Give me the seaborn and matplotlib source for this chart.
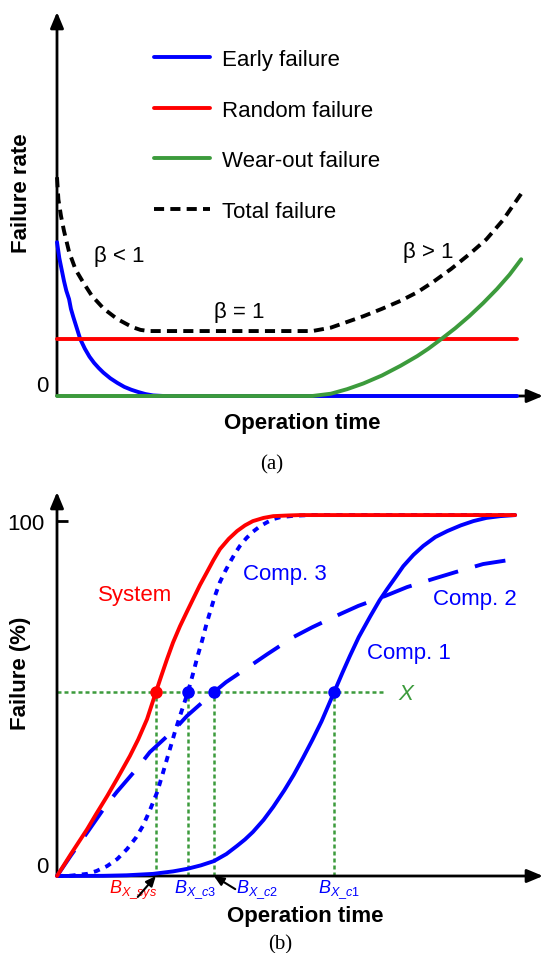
import matplotlib
matplotlib.use("Agg")
import matplotlib.pyplot as plt
import seaborn as sns

# ---- panel (a): bathtub curve (time units, rate units with random failure = 1)
early_t = [0, 0.05, 0.10, 0.15, 0.20, 0.26, 0.30, 0.35, 0.40, 0.45, 0.50, 0.60, 0.70, 0.80, 0.90,
           1.00, 1.15, 1.30, 1.45, 1.60, 1.75, 1.90, 2.07, 2.30, 9.91]
early_rate = [2.70, 2.42, 2.22, 2.02, 1.85, 1.70, 1.53, 1.39, 1.26, 1.13, 1.00, 0.83, 0.69, 0.58, 0.49,
              0.41, 0.31, 0.23, 0.16, 0.11, 0.07, 0.035, 0.01, 0.0, 0.0]

random_t = [0, 9.91]
random_rate = [1.0, 1.0]

wear_t = [0, 5.50, 5.90, 6.25, 6.60, 7.00, 7.40, 7.76, 8.00, 8.28, 8.58, 8.88, 9.18, 9.48, 9.75, 10.0]
wear_rate = [0.0, 0.0, 0.04, 0.12, 0.22, 0.36, 0.53, 0.70, 0.83, 1.00, 1.19, 1.40, 1.63, 1.88, 2.13, 2.40]

total_t = [0, 0.03, 0.086, 0.15, 0.26, 0.40, 0.56, 0.75, 1.01, 1.30, 1.62, 1.80, 1.98, 5.50, 5.90, 6.25,
           6.60, 7.00, 7.40, 7.76, 8.10, 8.49, 8.90, 9.25, 9.60, 10.0]
total_rate = [3.84, 3.45, 3.16, 2.90, 2.53, 2.22, 2.00, 1.76, 1.53, 1.35, 1.21, 1.16, 1.14, 1.14, 1.20, 1.30,
              1.40, 1.53, 1.67, 1.82, 2.00, 2.23, 2.50, 2.75, 3.08, 3.55]

# ---- panel (b): cumulative failure (%)
sys_t = [0, 0.30, 0.65, 0.85, 1.08, 1.30, 1.57, 1.75, 1.94, 2.13, 2.25, 2.37, 2.50, 2.65, 2.80,
         2.93, 3.08, 3.23, 3.37, 3.51, 3.70, 3.88, 4.05, 4.22, 4.45, 4.66, 5.00, 5.24, 9.87]
sys_pct = [0, 6.2, 13.2, 17.6, 22.5, 27.5, 33.8, 38.5, 44.2, 51.8, 56.5, 61.1, 65.8, 70.4, 74.5,
           78.0, 82.0, 85.6, 89.0, 92.1, 95.0, 97.2, 98.8, 100.0, 100.9, 101.4, 101.6, 101.7, 101.7]

c1_t = [0, 1.0, 1.5, 2.07, 2.50, 2.80, 3.10, 3.38, 3.65, 3.88, 4.05, 4.22, 4.45, 4.66, 4.90,
        5.10, 5.30, 5.50, 5.70, 5.97, 6.15, 6.31, 6.50, 6.75, 6.95, 7.11, 7.30, 7.46, 7.68,
        7.89, 8.15, 8.41, 8.70, 8.97, 9.25, 9.55, 9.87]
c1_pct = [0, 0.05, 0.2, 0.6, 1.3, 2.0, 3.0, 4.2, 6.2, 8.5, 10.3, 12.4, 15.8, 19.5, 24.2,
          28.5, 33.3, 38.3, 43.6, 51.8, 57.3, 62.0, 67.3, 73.2, 77.7, 80.8, 84.3, 87.3, 90.5,
          93.0, 95.5, 97.2, 98.8, 100.0, 100.9, 101.4, 101.7]

c2_t = [0, 0.30, 0.60, 1.03, 1.29, 1.75, 2.00, 2.54, 2.80, 3.38, 3.64, 4.16, 4.53, 5.09, 5.50,
        6.10, 6.49, 7.07, 7.54, 8.10, 8.58, 9.18, 9.87]
c2_pct = [0, 5.8, 11.3, 19.4, 23.7, 30.7, 34.9, 41.4, 45.1, 51.8, 54.6, 59.2, 62.5, 67.3, 70.1,
          73.8, 76.1, 78.9, 81.4, 83.7, 85.6, 87.9, 89.3]

c3_t = [0, 0.30, 0.65, 0.85, 1.08, 1.30, 1.51, 1.70, 1.85, 2.00, 2.16, 2.27, 2.37, 2.46, 2.54,
        2.63, 2.72, 2.82, 2.93, 3.03, 3.13, 3.22, 3.30, 3.40, 3.51, 3.62, 3.73, 3.84, 3.94,
        4.08, 4.22, 4.38, 4.53, 4.67, 4.81, 5.10, 5.45, 9.87]
c3_pct = [0, 0.1, 0.6, 1.4, 2.8, 4.8, 7.6, 10.8, 14.1, 18.5, 23.7, 28.5, 33.0, 37.0, 40.6,
          44.3, 47.9, 51.8, 57.0, 62.0, 66.5, 71.0, 74.5, 78.8, 82.8, 85.8, 88.5, 91.0, 93.0,
          95.2, 97.0, 98.6, 99.7, 100.6, 101.1, 101.5, 101.7, 101.7]

x_level = 51.8
bx_t = [2.13, 2.82, 3.38, 5.97]
bx_colors = ["#ff0000", "#0000ff", "#0000ff", "#0000ff"]
bx_labels = [r"$B_{X\_sys}$", r"$B_{X\_c3}$", r"$B_{X\_c2}$", r"$B_{X\_c1}$"]
bx_label_t = [1.64, 2.97, 4.31, 6.08]

sns.set_theme(style="white")
plt.rcParams["font.family"] = ["Liberation Sans", "DejaVu Sans"]
plt.rcParams["mathtext.fontset"] = "custom"
plt.rcParams["mathtext.it"] = "Liberation Sans:italic"
plt.rcParams["mathtext.rm"] = "Liberation Sans"
plt.rcParams["text.color"] = "black"
plt.rcParams["axes.labelcolor"] = "black"
plt.rcParams["ytick.color"] = "black"
plt.rcParams["xtick.color"] = "black"

BLUE, RED, GREEN = "#0000ff", "#ff0000", "#3c9b3c"
LW = 2.8

fig = plt.figure(figsize=(5.44, 9.54), dpi=100)


def fx(px):
    return px / 544


def fy(py):
    return 1 - py / 954


ax_a = fig.add_axes([fx(57), fy(397), fx(486), 384 / 954])
ax_b = fig.add_axes([fx(57), fy(877), fx(486), 384 / 954])


def arrow_axes(ax):
    for s in ax.spines.values():
        s.set_visible(False)
    for xy in [(1, 0), (0, 1)]:
        ax.annotate("", xy=xy, xytext=(0, 0), xycoords="axes fraction", textcoords="axes fraction",
                    arrowprops=dict(arrowstyle="-|>,head_length=0.6,head_width=0.25", lw=2,
                                    color="black", mutation_scale=16, shrinkA=0, shrinkB=0),
                    zorder=1.5)


# ---------- panel (a)
sns.lineplot(x=early_t, y=early_rate, ax=ax_a, color=BLUE, lw=LW, label="Early failure", clip_on=False)
sns.lineplot(x=random_t, y=random_rate, ax=ax_a, color=RED, lw=LW, label="Random failure", clip_on=False)
sns.lineplot(x=wear_t, y=wear_rate, ax=ax_a, color=GREEN, lw=LW, label="Wear-out failure", clip_on=False)
sns.lineplot(x=total_t, y=total_rate, ax=ax_a, color="black", lw=LW, linestyle=(0, (2.6, 1.6)),
             label="Total failure", clip_on=False)
ax_a.set_xlim(0, 10.47)
ax_a.set_ylim(0, 6.74)
ax_a.set_xticks([])
ax_a.set_yticks([])
ax_a.set_xlabel("")
ax_a.set_ylabel("")
arrow_axes(ax_a)
ax_a.legend(loc="upper left", bbox_to_anchor=(fx(154), fy(50)), bbox_transform=fig.transFigure,
            frameon=False, fontsize=16, handlelength=2.5, handletextpad=0.55, labelspacing=1.33,
            borderpad=0, borderaxespad=0)
ax_a.text(0.80, 2.46, "β < 1", fontsize=16, va="center", ha="left")
ax_a.text(3.38, 1.49, "β = 1", fontsize=16, va="center", ha="left")
ax_a.text(7.46, 2.54, "β > 1", fontsize=16, va="center", ha="left")

fig.text(fx(42), fy(387), "0", fontsize=16, ha="center", va="center")
fig.text(fx(22), fy(193), "Failure rate", fontsize=16, fontweight="bold", rotation=90,
         ha="center", va="center")
fig.text(fx(302), fy(424), "Operation time", fontsize=16, fontweight="bold", ha="center", va="center")
fig.text(fx(272), fy(465), "(a)", fontsize=15, family="Liberation Serif", ha="center", va="center")

# ---------- panel (b)
ax_b.plot([0, 7.07], [x_level, x_level], color=GREEN, lw=1.8, linestyle=(0, (1.6, 1.2)), zorder=1)
for t in bx_t:
    ax_b.plot([t, t], [0, x_level], color=GREEN, lw=1.8, linestyle=(0, (1.6, 1.2)), zorder=1)

sns.lineplot(x=c2_t, y=c2_pct, ax=ax_b, color=BLUE, lw=LW, linestyle=(0, (8, 4.5)), clip_on=False)
sns.lineplot(x=c1_t, y=c1_pct, ax=ax_b, color=BLUE, lw=LW, clip_on=False)
sns.lineplot(x=c3_t, y=c3_pct, ax=ax_b, color=BLUE, lw=LW, linestyle=(0, (1.6, 1.6)), clip_on=False)
sns.lineplot(x=sys_t, y=sys_pct, ax=ax_b, color=RED, lw=LW, clip_on=False)
for t, c in zip(bx_t, bx_colors):
    ax_b.plot([t], [x_level], marker="o", ms=8, color=c, zorder=5)

ax_b.set_xlim(0, 10.47)
ax_b.set_ylim(0, 108.2)
ax_b.set_xticks([])
ax_b.set_yticks([100])
ax_b.set_yticklabels(["100"], fontsize=16)
ax_b.tick_params(axis="y", direction="in", length=8, width=2, pad=9, left=True)
ax_b.set_xlabel("")
ax_b.set_ylabel("")
arrow_axes(ax_b)

ax_b.text(1.68, 79.2, "System", color=RED, fontsize=16, ha="center", va="center")
ax_b.text(4.01, 85.1, "Comp. 3", color=BLUE, fontsize=16, ha="left", va="center")
ax_b.text(9.91, 78.3, "Comp. 2", color=BLUE, fontsize=16, ha="right", va="center")
ax_b.text(6.68, 63.1, "Comp. 1", color=BLUE, fontsize=16, ha="left", va="center")
ax_b.text(7.35, 51.3, "X", color=GREEN, fontsize=16, style="italic", ha="left", va="center")

for t, lab, c in zip(bx_label_t, bx_labels, bx_colors):
    ax_b.text(t, -3.6, lab, color=c, fontsize=13, ha="center", va="center", clip_on=False)

small_arrow = dict(arrowstyle="-|>,head_length=0.5,head_width=0.22", lw=1.5, color="black",
                   mutation_scale=12, shrinkA=0, shrinkB=0)
ax_b.annotate("", xy=(bx_t[0], 0), xytext=(1.74, -5.9), arrowprops=small_arrow, annotation_clip=False)
ax_b.annotate("", xy=(bx_t[2], 0), xytext=(3.84, -3.7), arrowprops=small_arrow, annotation_clip=False)

fig.text(fx(21), fy(673), "Failure (%)", fontsize=16, fontweight="bold", rotation=90,
         ha="center", va="center")
fig.text(fx(42), fy(868), "0", fontsize=16, ha="center", va="center")
fig.text(fx(305), fy(917), "Operation time", fontsize=16, fontweight="bold", ha="center", va="center")
fig.text(fx(280), fy(945), "(b)", fontsize=15, family="Liberation Serif", ha="center", va="center")

fig.savefig("out.png", dpi=100)
